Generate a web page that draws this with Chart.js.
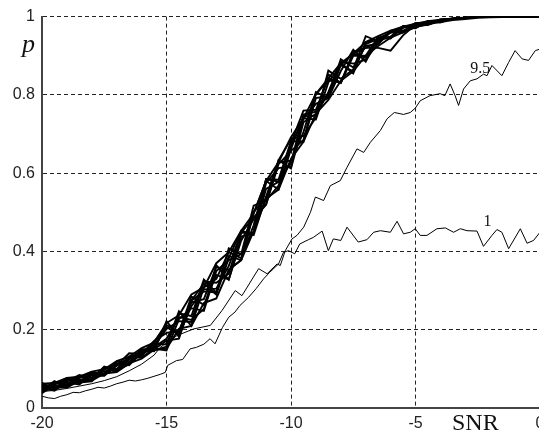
<!DOCTYPE html>
<html>
<head>
<meta charset="utf-8">
<script src="https://cdn.jsdelivr.net/npm/chart.js@4"></script>
<style>
  html, body { margin: 0; padding: 0; background: #fff; overflow: hidden; }
  #wrap { width: 560px; height: 434px; }
</style>
</head>
<body>
<div id="wrap"><canvas id="chart" width="560" height="434"></canvas></div>
<script>
// SNR grid shared by the bundle of detection curves (-20 .. 0, step 0.5)
const snrGrid = [-20,-19.5,-19,-18.5,-18,-17.5,-17,-16.5,-16,-15.5,-15,-14.5,-14,-13.5,-13,-12.5,-12,-11.5,-11,-10.5,-10,
                 -9.5,-9,-8.5,-8,-7.5,-7,-6.5,-6,-5.5,-5,-4.5,-4,-3.5,-3,-2.5,-2,-1.5,-1,-0.5,0];

// detection probability for each run in the bundle
const bundleA = [0.058,0.050,0.075,0.067,0.090,0.084,0.119,0.115,0.146,0.147,0.157,0.242,0.235,0.328,0.295,0.388,0.378,0.502,0.535,0.633,0.612,0.730,0.752,0.852,0.831,0.900,0.900,0.948,0.944,0.973,0.970,0.989,0.985,0.996,0.997,0.999,1,1,1,1,1];
const bundleB = [0.043,0.065,0.060,0.082,0.071,0.098,0.093,0.128,0.133,0.169,0.212,0.192,0.285,0.263,0.340,0.328,0.438,0.447,0.585,0.583,0.682,0.680,0.792,0.797,0.891,0.870,0.925,0.930,0.962,0.961,0.983,0.983,0.991,0.994,0.997,0.999,1,1,1,1,1];
const bundleC = [0.053,0.046,0.070,0.073,0.072,0.103,0.099,0.118,0.150,0.150,0.172,0.177,0.275,0.298,0.295,0.408,0.393,0.452,0.575,0.613,0.617,0.740,0.777,0.792,0.876,0.905,0.895,0.946,0.947,0.971,0.982,0.979,0.991,0.994,0.997,0.999,1,1,1,1,1];
const bundleD = [0.038,0.060,0.072,0.063,0.085,0.089,0.115,0.109,0.143,0.160,0.202,0.222,0.220,0.323,0.320,0.343,0.448,0.487,0.520,0.623,0.657,0.685,0.802,0.837,0.831,0.910,0.920,0.935,0.964,0.964,0.972,0.988,0.987,0.995,0.997,0.999,1,1,1,1,1];
const bundleE = [0.060,0.054,0.054,0.077,0.092,0.085,0.108,0.129,0.129,0.152,0.147,0.227,0.255,0.248,0.350,0.378,0.393,0.517,0.530,0.568,0.672,0.740,0.737,0.832,0.876,0.860,0.930,0.943,0.949,0.974,0.976,0.980,0.993,0.993,0.997,0.999,1,1,1,1,1];
const bundleF = [0.046,0.069,0.053,0.072,0.074,0.106,0.096,0.124,0.148,0.145,0.222,0.182,0.270,0.278,0.360,0.353,0.378,0.497,0.580,0.558,0.662,0.745,0.747,0.807,0.886,0.880,0.890,0.932,0.960,0.975,0.972,0.987,0.988,0.994,0.997,0.999,1,1,1,1,1];
const bundleG = [0.064,0.048,0.065,0.060,0.087,0.093,0.100,0.132,0.135,0.165,0.162,0.247,0.210,0.308,0.330,0.398,0.383,0.467,0.585,0.578,0.627,0.750,0.757,0.802,0.881,0.855,0.935,0.942,0.945,0.976,0.975,0.979,0.991,0.994,0.997,0.999,1,1,1,1,1];
const bundleH = [0.041,0.062,0.076,0.065,0.068,0.101,0.111,0.113,0.139,0.171,0.192,0.197,0.275,0.318,0.290,0.383,0.453,0.442,0.540,0.628,0.632,0.705,0.807,0.792,0.861,0.915,0.885,0.945,0.959,0.959,0.984,0.981,0.993,0.994,0.997,0.999,1,1,1,1,1];
const bundleI = [0.056,0.057,0.058,0.079,0.083,0.082,0.109,0.140,0.138,0.154,0.207,0.187,0.260,0.303,0.305,0.363,0.448,0.447,0.560,0.578,0.677,0.760,0.762,0.842,0.831,0.905,0.920,0.920,0.913,0.952,0.979,0.985,0.990,0.994,0.997,0.999,1,1,1,1,1];
const bundleJ = [0.042,0.053,0.052,0.069,0.070,0.088,0.092,0.114,0.126,0.149,0.152,0.202,0.210,0.268,0.280,0.353,0.378,0.452,0.535,0.558,0.637,0.680,0.752,0.787,0.836,0.860,0.900,0.925,0.946,0.960,0.973,0.981,0.986,0.991,0.994,0.997,0.998,0.999,0.999,1,1];
const bundleK = [0.062,0.064,0.077,0.080,0.093,0.099,0.120,0.131,0.153,0.167,0.217,0.237,0.290,0.308,0.370,0.398,0.453,0.497,0.580,0.628,0.692,0.740,0.802,0.842,0.881,0.905,0.935,0.950,0.964,0.974,0.982,0.988,0.992,0.995,0.998,1,1,1,1,1,1];
const bundleL = [0.051,0.044,0.068,0.084,0.077,0.104,0.098,0.111,0.144,0.156,0.177,0.232,0.225,0.253,0.365,0.328,0.428,0.482,0.520,0.633,0.687,0.695,0.742,0.862,0.841,0.865,0.950,0.937,0.961,0.963,0.982,0.983,0.991,0.994,0.997,0.999,1,1,1,1,1];

// curve marked "9.5"
const snrNinePointFive = [-20,-19.5,-19,-18.5,-18,-17.5,-17,-16.5,-16,-15.5,-15.25,-14.58,-13.91,-13.24,-12.77,-12.24,-11.97,-11.3,-10.96,-10.56,-10.43,-10.23,-9.96,-9.76,-9.49,-9.22,-9.02,-8.69,-8.42,-8.02,-7.75,-7.35,-7.08,-6.81,-6.41,-6.14,-5.85,-5.48,-5.21,-5.01,-4.81,-4.42,-4.01,-3.82,-3.61,-3.41,-3.27,-3.07,-2.8,-2.53,-2.27,-2.13,-1.93,-1.79,-1.53,-1.26,-1,-0.72,-0.46,-0.19,0];
const pNinePointFive = [0.042,0.045,0.050,0.056,0.062,0.070,0.080,0.095,0.112,0.135,0.155,0.185,0.202,0.211,0.249,0.300,0.287,0.356,0.343,0.368,0.364,0.402,0.432,0.441,0.462,0.500,0.539,0.530,0.568,0.581,0.615,0.662,0.653,0.679,0.709,0.739,0.755,0.750,0.755,0.766,0.785,0.798,0.803,0.798,0.828,0.798,0.773,0.815,0.836,0.841,0.853,0.849,0.875,0.866,0.849,0.883,0.913,0.892,0.888,0.913,0.917];

// curve marked "1"
const snrOne = [-20,-19.75,-19.5,-19.25,-19,-18.75,-18.5,-18.25,-18,-17.75,-17.5,-17.25,-17,-16.75,-16.5,-16.25,-16,-15.75,-15.5,-15.25,-15.05,-14.95,-14.6,-14.35,-14.05,-13.8,-13.5,-13.25,-13.05,-12.75,-12.5,-12.25,-12.05,-11.7,-11.4,-11.1,-10.85,-10.5,-10.3,-10.1,-9.85,-9.65,-9.3,-9.1,-8.75,-8.5,-8.3,-8,-7.75,-7.3,-6.95,-6.68,-6.41,-6.01,-5.74,-5.48,-5.21,-5.01,-4.81,-4.54,-4.14,-3.8,-3.47,-3.2,-2.93,-2.53,-2.27,-1.93,-1.73,-1.53,-1.26,-0.79,-0.52,-0.26,0];
const pOne = [0.030,0.026,0.024,0.030,0.034,0.040,0.039,0.044,0.048,0.053,0.051,0.056,0.062,0.066,0.071,0.069,0.072,0.076,0.081,0.086,0.091,0.109,0.121,0.124,0.151,0.155,0.163,0.177,0.164,0.206,0.232,0.245,0.262,0.283,0.305,0.330,0.347,0.368,0.398,0.402,0.394,0.419,0.430,0.436,0.452,0.402,0.432,0.428,0.462,0.424,0.430,0.449,0.453,0.449,0.477,0.445,0.449,0.458,0.441,0.441,0.458,0.460,0.449,0.458,0.453,0.452,0.413,0.441,0.456,0.449,0.407,0.458,0.421,0.428,0.449];

const bundle = [bundleA, bundleB, bundleC, bundleD, bundleE, bundleF, bundleG, bundleH, bundleI, bundleJ, bundleK, bundleL];

function points(xs, ys) {
    return xs.map((x, i) => ({ x: x, y: ys[i] }));
}

function lineSet(data, width) {
    return {
        data: data,
        borderColor: '#000',
        borderWidth: width,
        pointRadius: 0,
        fill: false,
        tension: 0
    };
}

const datasets = [
    lineSet(points(snrOne, pOne), 1),
    lineSet(points(snrNinePointFive, pNinePointFive), 1)
];
bundle.forEach((run) => datasets.push(lineSet(points(snrGrid, run), 1.9)));

const tickFont = { family: 'Arial, "Liberation Sans", sans-serif', size: 16 };

// curve labels and axis names, drawn in a serif face
const textMarks = {
    id: 'textMarks',
    afterDraw(chart) {
        const { ctx, scales: { x, y } } = chart;
        ctx.save();
        ctx.fillStyle = '#111';
        ctx.textBaseline = 'alphabetic';
        ctx.font = '16px "Liberation Serif", "Times New Roman", serif';
        ctx.fillText('9.5', x.getPixelForValue(-2.8), y.getPixelForValue(0.857));
        ctx.fillText('1', x.getPixelForValue(-2.27), y.getPixelForValue(0.466));
        ctx.font = 'italic 26px "Liberation Serif", "Times New Roman", serif';
        ctx.fillText('p', 22, 52);
        ctx.font = '24px "Liberation Serif", "Times New Roman", serif';
        ctx.fillText('SNR', 452, 430);
        ctx.restore();
    }
};

new Chart(document.getElementById('chart').getContext('2d'), {
    type: 'line',
    data: { datasets: datasets },
    options: {
        responsive: false,
        animation: false,
        layout: { padding: { top: 16, right: 20, left: 0, bottom: 0 } },
        plugins: { legend: { display: false }, tooltip: { enabled: false } },
        scales: {
            x: {
                type: 'linear',
                min: -20,
                max: 0,
                afterFit: (scale) => { scale.height = 26; },
                ticks: { stepSize: 5, color: '#222', font: tickFont, padding: 6, maxRotation: 0 },
                grid: { color: '#222', lineWidth: 1, drawTicks: false },
                border: { display: true, color: '#444', width: 2, dash: [4, 3] }
            },
            y: {
                min: 0,
                max: 1,
                afterFit: (scale) => { scale.width = 42; },
                ticks: {
                    stepSize: 0.2,
                    color: '#222',
                    font: tickFont,
                    padding: 7,
                    callback: (v) => String(Math.round(v * 10) / 10)
                },
                grid: { color: '#222', lineWidth: 1, drawTicks: false },
                border: { display: true, color: '#444', width: 2, dash: [4, 3] }
            }
        }
    },
    plugins: [textMarks]
});
</script>
</body>
</html>
